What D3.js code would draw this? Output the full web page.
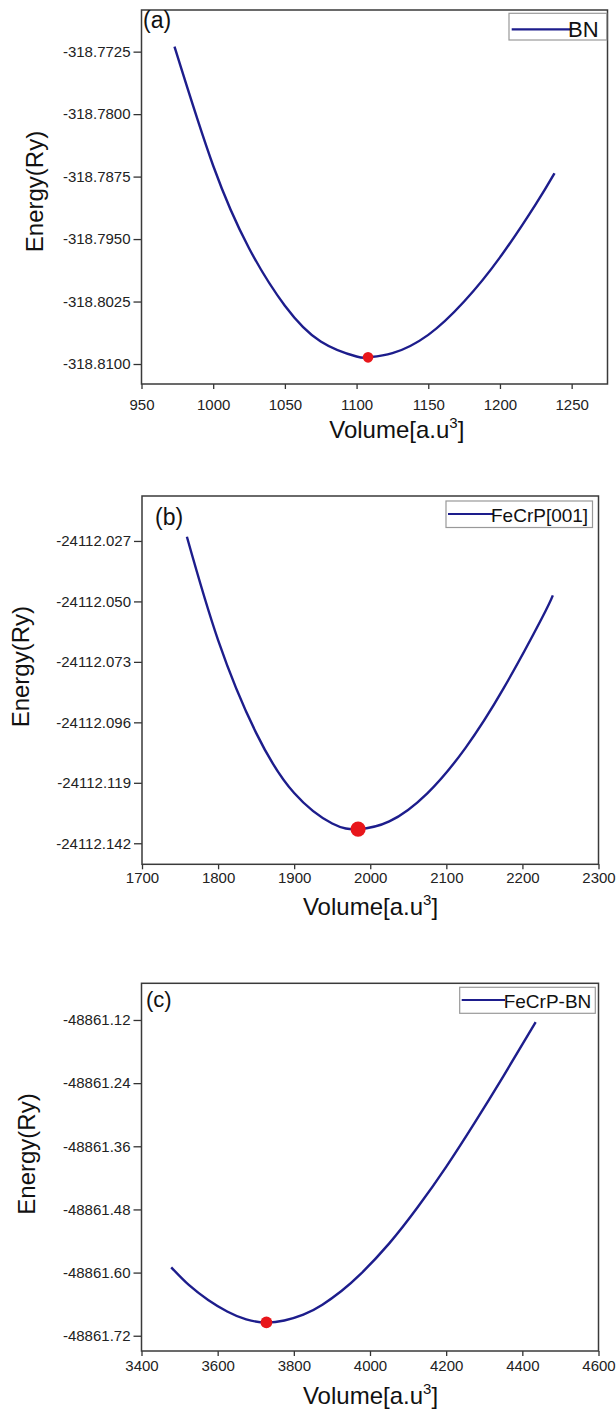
<!DOCTYPE html>
<html>
<head>
<meta charset="utf-8">
<script src="https://cdn.jsdelivr.net/npm/d3@7"></script>
<style>
  body { margin: 0; background: #fff; }
  svg { display: block; }
  .tick text { font-family: "Liberation Sans", Arial, sans-serif; font-size: 15px; fill: #222; }
  .tick line { stroke: #333; stroke-width: 1.3; }
  text { font-family: "Liberation Sans", Arial, sans-serif; fill: #111; }
</style>
</head>
<body>
<div id="chart"></div>
<script>
// Panel (a) - BN
const volumeA = [973, 1000, 1025, 1050, 1075, 1100, 1108, 1125, 1150, 1175, 1200, 1225, 1238];
const energyA = [-318.7719, -318.7862, -318.7961, -318.8030, -318.8073, -318.8091, -318.8092,
                 -318.8087, -318.8065, -318.8025, -318.7972, -318.7908, -318.7871];
const minA = [1108, -318.8092];
const xTicksA = [950, 1000, 1050, 1100, 1150, 1200, 1250];
const yTicksA = [-318.7725, -318.7800, -318.7875, -318.7950, -318.8025, -318.8100];

// Panel (b) - FeCrP[001]
const volumeB = [1759, 1800, 1850, 1900, 1950, 1984, 2025, 2075, 2125, 2175, 2225, 2240];
const energyB = [-24112.0254, -24112.0647, -24112.1000, -24112.1229, -24112.1345, -24112.1366,
                 -24112.1337, -24112.1230, -24112.1058, -24112.0832, -24112.0567, -24112.0477];
const minB = [1984, -24112.1366];
const xTicksB = [1700, 1800, 1900, 2000, 2100, 2200, 2300];
const yTicksB = [-24112.027, -24112.050, -24112.073, -24112.096, -24112.119, -24112.142];

// Panel (c) - FeCrP-BN
const volumeC = [3478, 3525, 3575, 3625, 3675, 3728, 3775, 3825, 3875, 3925, 3975, 4050,
                 4125, 4200, 4275, 4350, 4435];
const energyC = [-48861.590, -48861.624, -48861.652, -48861.674, -48861.689, -48861.695,
                 -48861.691, -48861.680, -48861.661, -48861.635, -48861.603, -48861.545,
                 -48861.476, -48861.399, -48861.315, -48861.227, -48861.124];
const minC = [3728, -48861.6946];
const xTicksC = [3400, 3600, 3800, 4000, 4200, 4400, 4600];
const yTicksC = [-48861.12, -48861.24, -48861.36, -48861.48, -48861.60, -48861.72];

const width = 616, height = 1418;
const lineColor = '#1d1d8c';
const dotColor = '#e8161b';

const svg = d3.select('#chart').append('svg')
    .attr('width', width)
    .attr('height', height);

const panels = [
    {
        vol: volumeA, en: energyA, min: minA, xTicks: xTicksA, yTicks: yTicksA,
        xDomain: [950, 1275], yDomain: [-318.8124, -318.7675], digits: 4,
        box: { left: 141.5, right: 607.5, top: 10, bottom: 384 },
        xPad: 10.5, dotR: 5.3,
        tag: '(a)', tagPos: [143, 28], tagSize: 23,
        legend: { name: 'BN', x: 509, y: 13.3, w: 97.7, h: 26.7, lineY: 29.3, x1: 511.7, x2: 570, tx: 568, ty: 37.3, size: 22 },
        yTitle: [43, 191.5], xTitle: [396.8, 438]
    },
    {
        vol: volumeB, en: energyB, min: minB, xTicks: xTicksB, yTicks: yTicksB,
        xDomain: [1700, 2300], yDomain: [-24112.1500, -24112.0099], digits: 3,
        box: { left: 142, right: 598.5, top: 496, bottom: 864.3 },
        xPad: 3, dotR: 7.6,
        tag: '(b)', tagPos: [155, 525], tagSize: 23,
        legend: { name: 'FeCrP[001]', x: 446, y: 501, w: 146.5, h: 26.5, lineY: 514, x1: 448, x2: 493, tx: 491, ty: 522, size: 19 },
        yTitle: [29, 666.7], xTitle: [370.5, 915]
    },
    {
        vol: volumeC, en: energyC, min: minC, xTicks: xTicksC, yTicks: yTicksC,
        xDomain: [3400, 4600], yDomain: [-48861.749, -48861.0503], digits: 2,
        box: { left: 141.5, right: 598.5, top: 983.3, bottom: 1351 },
        xPad: 4.3, dotR: 5.9,
        tag: '(c)', tagPos: [146, 1007], tagSize: 22,
        legend: { name: 'FeCrP-BN', x: 459.7, y: 987.3, w: 135.6, h: 26, lineY: 1000, x1: 461.7, x2: 505, tx: 503.7, ty: 1008, size: 19 },
        yTitle: [35, 1154], xTitle: [370.5, 1404]
    }
];

panels.forEach(p => drawPanel(p));

function drawPanel(p) {
    const b = p.box;
    const x = d3.scaleLinear().domain(p.xDomain).range([b.left, b.right]);
    const y = d3.scaleLinear().domain(p.yDomain).range([b.bottom, b.top]);

    const g = svg.append('g');

    // axes (ticks only, frame drawn separately)
    const xAxis = g.append('g')
        .attr('transform', `translate(0,${b.bottom})`)
        .call(d3.axisBottom(x)
            .tickValues(p.xTicks)
            .tickFormat(d => d.toString())
            .tickSize(5)
            .tickSizeOuter(0)
            .tickPadding(p.xPad));
    xAxis.select('.domain').remove();

    const yAxis = g.append('g')
        .attr('transform', `translate(${b.left},0)`)
        .call(d3.axisLeft(y)
            .tickValues(p.yTicks)
            .tickFormat(d => d.toFixed(p.digits))
            .tickSize(8)
            .tickSizeOuter(0)
            .tickPadding(3));
    yAxis.select('.domain').remove();

    // frame
    g.append('rect')
        .attr('x', b.left)
        .attr('y', b.top)
        .attr('width', b.right - b.left)
        .attr('height', b.bottom - b.top)
        .attr('fill', 'none')
        .attr('stroke', '#3a3a3a')
        .attr('stroke-width', 1.5);

    // curve
    const pts = p.vol.map((v, i) => [v, p.en[i]]);
    const line = d3.line()
        .x(d => x(d[0]))
        .y(d => y(d[1]))
        .curve(d3.curveNatural);

    g.append('path')
        .datum(pts)
        .attr('d', line)
        .attr('fill', 'none')
        .attr('stroke', lineColor)
        .attr('stroke-width', 2.4);

    // equilibrium point
    g.append('circle')
        .attr('cx', x(p.min[0]))
        .attr('cy', y(p.min[1]))
        .attr('r', p.dotR)
        .attr('fill', dotColor);

    // panel tag
    g.append('text')
        .attr('x', p.tagPos[0])
        .attr('y', p.tagPos[1])
        .style('font-size', p.tagSize + 'px')
        .text(p.tag);

    // legend
    const L = p.legend;
    g.append('rect')
        .attr('x', L.x).attr('y', L.y)
        .attr('width', L.w).attr('height', L.h)
        .attr('fill', '#fff')
        .attr('stroke', '#999')
        .attr('stroke-width', 1.2);
    g.append('line')
        .attr('x1', L.x1).attr('x2', L.x2)
        .attr('y1', L.lineY).attr('y2', L.lineY)
        .attr('stroke', lineColor)
        .attr('stroke-width', 2.2);
    g.append('text')
        .attr('x', L.tx).attr('y', L.ty)
        .style('font-size', L.size + 'px')
        .text(L.name);

    // axis titles
    g.append('text')
        .attr('transform', `translate(${p.yTitle[0]},${p.yTitle[1]}) rotate(-90)`)
        .attr('text-anchor', 'middle')
        .style('font-size', '24px')
        .text('Energy(Ry)');

    const xt = g.append('text')
        .attr('x', p.xTitle[0])
        .attr('y', p.xTitle[1])
        .attr('text-anchor', 'middle')
        .style('font-size', '24px');
    xt.append('tspan').text('Volume[a.u');
    xt.append('tspan').attr('dy', -10).style('font-size', '15px').text('3');
    xt.append('tspan').attr('dy', 10).text(']');
}
</script>
</body>
</html>
